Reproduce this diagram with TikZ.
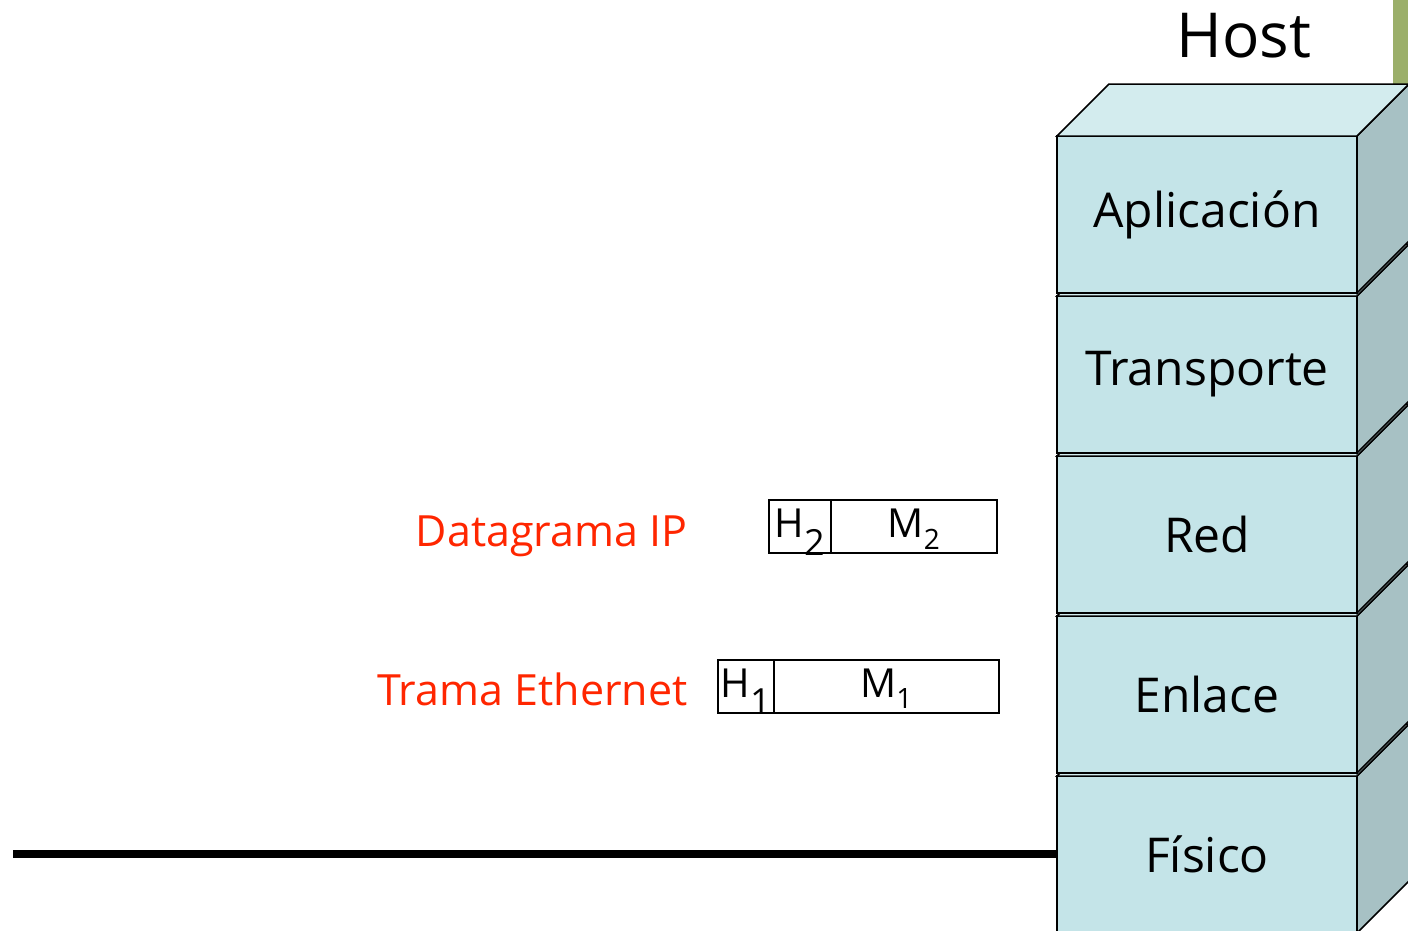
\documentclass[tikz,border=0pt]{standalone}
\usepackage{fontspec}
\setmainfont{Open Sans}
\usetikzlibrary{positioning}
\definecolor{layerfront}{HTML}{C4E4E8}
\definecolor{layertop}{HTML}{D3ECEE}
\definecolor{layerside}{HTML}{A7C1C4}
\definecolor{hostbar}{HTML}{9BAF6A}
\definecolor{labelred}{HTML}{FF2600}
\tikzset{
	layer/.style={draw, fill=layerfront, line width=1.5pt, minimum width=300pt, minimum height=157pt, inner sep=0pt, outer sep=0pt, font=\fontsize{48}{58}\selectfont},
	field/.style={draw, line width=1.5pt, minimum height=53pt, inner sep=0pt, outer sep=0pt, text height=31pt, text depth=9pt, font=\fontsize{40}{48}\selectfont},
	tag/.style={text=labelred, anchor=base east, font=\fontsize{43}{52}\selectfont}
}
\begin{document}
\begin{tikzpicture}[x=1pt,y=-1pt]
\useasboundingbox (0,0) rectangle (1408,930);
\clip (0,0) rectangle (1408,930);
\fill[hostbar] (1393,0) rectangle (1408,90);
\node (host) at (1244,36) {\fontsize{62}{70}\selectfont Host};
\foreach \name [count = \i from 0] in {Físico,Enlace,Red,Transporte,Aplicación}{
	\node[layer, anchor=north west] (layer\i) at (1057,776-160*\i) {\name};
	\draw[line width=1.5pt, fill=layerside] (layer\i.north east) -- ++(52,-52) -- ++(0,157) -- (layer\i.south east) -- cycle;
	\draw[line width=1.5pt, fill=layertop] (layer\i.north west) -- ++(52,-52) -- ++(300,0) -- (layer\i.north east) -- cycle;
}
\coordinate (wire) at (13,854);
\draw[line width=8pt] (wire) -- (wire -| layer0.west);
\node[field, minimum width=62pt, anchor=north west] (h2) at (769,500) {H\textsubscript{\fontsize{36}{44}\selectfont 2}};
\node[field, minimum width=166pt, right=0pt of h2] (m2) {M\textsubscript{2}};
\node[field, minimum width=56pt, anchor=north west] (h1) at (718,660) {H\textsubscript{\fontsize{36}{44}\selectfont 1}};
\node[field, minimum width=225pt, right=0pt of h1] (m1) {M\textsubscript{1}};
\node[tag] (ip) at (691,546) {Datagrama IP};
\node[tag] (eth) at (691,705) {Trama Ethernet};
\end{tikzpicture}
\end{document}
